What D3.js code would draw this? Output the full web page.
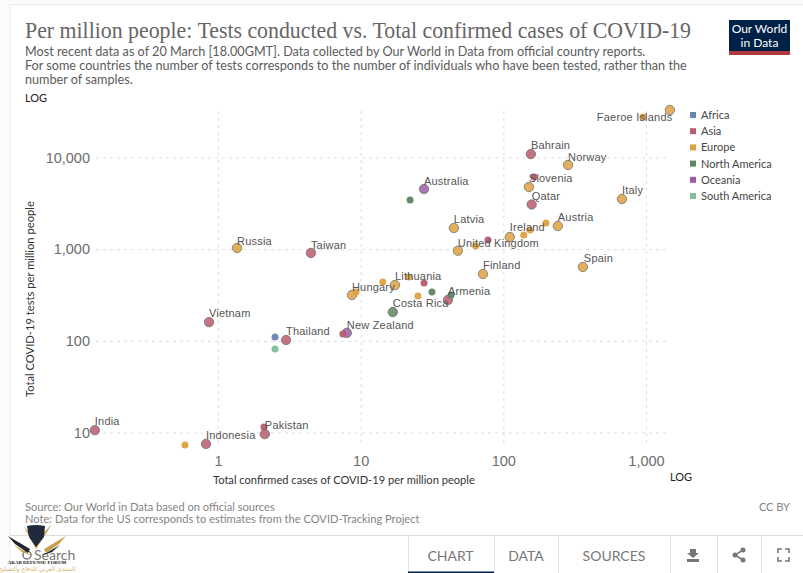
<!DOCTYPE html>
<html>
<head>
<meta charset="utf-8">
<script src="https://cdn.jsdelivr.net/npm/d3@7"></script>
<style>
  html, body { margin: 0; padding: 0; background: #fbfbfb; }
  svg { display: block; font-family: Lato, sans-serif; }
  .grid line { stroke: #ddd; stroke-dasharray: 3 4; }
  .grid .domain { display: none; }
  .grid text { fill: #6e6e6e; font-size: 14.5px; }
  .lbl { font-family: "Liberation Sans", Arial, sans-serif; font-size: 11px; fill: #555; letter-spacing: .2px; }
</style>
</head>
<body>
<svg id="chart" width="803" height="573"></svg>
<script>
const continents = ["Africa", "Asia", "Europe", "North America", "Oceania", "South America"];
const continentColors = ["#6D82B5", "#B85C6E", "#DFA13F", "#5F8562", "#9A5EA3", "#7FBF95"];

// one entry per country, same order in all the lists. "" = no label on the chart
const cases = [1470, 951, 156, 284, 164, 151, 158, 678, 27.8, 22.2, 45, 241, 199, 111, 139, 154, 78, 64, 48, 72, 361, 1.36, 4.48, 17.4, 14.3, 21.8, 27.8, 31.6, 25.2, 8.69, 9.27, 40.9, 43, 16.8, 8.0, 7.5, 0.865, 3.0, 2.51, 2.51, 0.137, 2.1, 2.13, 0.824, 0.587];
const tests = [33000, 27700, 10900, 8280, 6120, 4765, 3070, 3525, 4530, 3440, 1700, 1790, 1930, 1357, 1427, 1618, 1259, 1083, 962, 536, 639, 1030, 908, 406, 438, 497, 427, 341, 308, 316, 341, 279, 316, 206, 122, 119, 160, 102, 110, 81.5, 10.6, 11.5, 9.6, 7.5, 7.3];
const group = ["Europe", "Europe", "Asia", "Europe", "Asia", "Europe", "Asia", "Europe", "Oceania", "North America", "Europe", "Europe", "Europe", "Europe", "Europe", "Europe", "Asia", "Europe", "Europe", "Europe", "Europe", "Europe", "Asia", "Europe", "Europe", "Europe", "Asia", "North America", "Europe", "Europe", "Europe", "Asia", "North America", "North America", "Oceania", "Asia", "Asia", "Asia", "Africa", "South America", "Asia", "Asia", "Asia", "Asia", "Europe"];
const names = ["Faeroe Islands", "", "Bahrain", "Norway", "", "Slovenia", "Qatar", "Italy", "Australia", "", "Latvia", "Austria", "", "Ireland", "", "", "", "", "United Kingdom", "Finland", "Spain", "Russia", "Taiwan", "Lithuania", "", "", "", "", "", "Hungary", "", "Armenia", "", "Costa Rica", "New Zealand", "", "Vietnam", "Thailand", "", "", "India", "", "Pakistan", "Indonesia", ""];

const xTicks = [1, 10, 100, 1000];
const yTicks = [10, 100, 1000, 10000];

const title = "Per million people: Tests conducted vs. Total confirmed cases of COVID-19";
const subtitle = [
  "Most recent data as of 20 March [18.00GMT]. Data collected by Our World in Data from official country reports.",
  "For some countries the number of tests corresponds to the number of individuals who have been tested, rather than the",
  "number of samples."
];
const footer = [
  "Source: Our World in Data based on official sources",
  "Note: Data for the US corresponds to estimates from the COVID-Tracking Project"
];
const tabs = ["CHART", "DATA", "SOURCES"];

// label placement relative to the dot
const labelOffset = {
  "Faeroe Islands": [-73, 11], "Bahrain": [0, -5], "Norway": [0, -4], "Slovenia": [0, -5], "Qatar": [0, -5],
  "Italy": [0, -5], "Australia": [0, -4], "Latvia": [0, -5], "Austria": [0, -5], "Ireland": [0, -6],
  "United Kingdom": [0, -4], "Finland": [0, -5], "Spain": [1, -5], "Russia": [0, -3], "Taiwan": [0, -4],
  "Lithuania": [0, -5], "Hungary": [0, -4], "Armenia": [0, -5], "Costa Rica": [0, -5], "New Zealand": [0, -4],
  "Vietnam": [0, -5], "Thailand": [0, -5], "India": [0, -5], "Pakistan": [0, -5], "Indonesia": [0, -5]
};

const svg = d3.select("#chart");

const x = d3.scaleLog().domain([1, 1000]).range([218, 646]);
const y = d3.scaleLog().domain([10, 10000]).range([432.5, 157.5]);
const color = d3.scaleOrdinal().domain(continents).range(continentColors);

// card
svg.append("rect").attr("x", 10).attr("y", 4.5).attr("width", 800).attr("height", 580)
  .attr("fill", "#fff").attr("stroke", "#eee");

svg.append("text").attr("x", 25).attr("y", 38).text(title)
  .attr("font-family", "Liberation Serif, serif").attr("font-size", 23).attr("fill", "#666")
  .attr("textLength", 666).attr("lengthAdjust", "spacingAndGlyphs");

svg.selectAll(".sub").data(subtitle).join("text").attr("class", "sub")
  .attr("x", 25).attr("y", (d, i) => 56 + i * 14.2).text(d => d)
  .attr("font-size", 12.65).attr("fill", "#5b5b5b");

svg.append("text").attr("x", 25).attr("y", 102).text("LOG").attr("font-size", 11).attr("fill", "#222");
svg.append("text").attr("x", 670).attr("y", 481).text("LOG").attr("font-size", 11).attr("fill", "#222");

// logo
svg.append("rect").attr("x", 729).attr("y", 20).attr("width", 61).attr("height", 35).attr("fill", "#002147");
svg.append("rect").attr("x", 729).attr("y", 51).attr("width", 61).attr("height", 4).attr("fill", "#b13a3f");
svg.selectAll(".logo").data(["Our World", "in Data"]).join("text").attr("class", "logo")
  .attr("x", 759.5).attr("y", (d, i) => 33 + i * 14).attr("text-anchor", "middle")
  .attr("font-size", 12).attr("fill", "#fff").text(d => d);

// axes + grid
svg.append("g").attr("class", "grid").attr("transform", "translate(0,443)")
  .call(d3.axisBottom(x).tickValues(xTicks).tickFormat(d3.format(",")).tickSize(-335).tickPadding(13));
svg.append("g").attr("class", "grid").attr("transform", "translate(96,0)")
  .call(d3.axisLeft(y).tickValues(yTicks).tickFormat(d3.format(",")).tickSize(-574).tickPadding(6));

svg.append("text").attr("x", 213).attr("y", 484).text("Total confirmed cases of COVID-19 per million people")
  .attr("font-size", 11.1).attr("fill", "#333");
svg.append("text").attr("transform", "translate(34,397) rotate(-90)").text("Total COVID-19 tests per million people")
  .attr("font-size", 11.2).attr("fill", "#333");

// dots, labelled ones are drawn bigger
const rows = cases.map((c, i) => ({ c, t: tests[i], g: group[i], n: names[i] }));
svg.append("g").selectAll("circle").data(rows).join("circle")
  .attr("cx", d => x(d.c)).attr("cy", d => y(d.t))
  .attr("r", d => d.n ? 4.7 : 3.5)
  .attr("fill", d => color(d.g)).attr("fill-opacity", d => d.n ? .85 : .95)
  .attr("stroke", d => d.n ? "#666" : "none").attr("stroke-width", .7);

svg.append("g").selectAll("text").data(rows.filter(d => d.n)).join("text").attr("class", "lbl")
  .attr("x", d => x(d.c) + labelOffset[d.n][0]).attr("y", d => y(d.t) + labelOffset[d.n][1])
  .text(d => d.n);

// legend
const legend = svg.append("g").selectAll("g").data(continents).join("g")
  .attr("transform", (d, i) => `translate(690,${115 + i * 16.2})`);
legend.append("rect").attr("y", -3).attr("width", 6).attr("height", 6).attr("fill", d => color(d));
legend.append("text").attr("x", 11).attr("y", 4).text(d => d).attr("font-size", 11).attr("fill", "#444");

// footer
svg.selectAll(".foot").data(footer).join("text").attr("class", "foot")
  .attr("x", 25).attr("y", (d, i) => 511 + i * 12).text(d => d)
  .attr("font-size", 11.1).attr("fill", "#858585");
svg.append("text").attr("x", 790).attr("y", 511).attr("text-anchor", "end").text("CC BY")
  .attr("font-size", 11).attr("fill", "#858585");

// tab bar
svg.append("line").attr("x1", 10).attr("x2", 803).attr("y1", 535.5).attr("y2", 535.5).attr("stroke", "#ddd");
svg.selectAll(".sep").data([408, 494, 558, 670, 717, 761]).join("line").attr("class", "sep")
  .attr("x1", d => d + .5).attr("x2", d => d + .5).attr("y1", 535).attr("y2", 573).attr("stroke", "#e2e2e2");
svg.selectAll(".tab").data(tabs).join("text").attr("class", "tab")
  .attr("x", (d, i) => [450.5, 526, 614][i]).attr("y", 561).attr("text-anchor", "middle")
  .attr("font-size", 14).attr("fill", "#777").text(d => d);
svg.append("rect").attr("x", 408).attr("y", 571.5).attr("width", 86).attr("height", 1.5).attr("fill", "#002147");

// toolbar icons
const icons = svg.append("g").attr("fill", "#777");
icons.append("path").attr("d", "M690 549h6v4h3l-6 5-6-5h3z M687 559h12v3h-12z");
icons.append("g").attr("stroke", "#777").attr("stroke-width", 1.5).append("path")
  .attr("d", "M743 550L735 555L743 560").attr("fill", "none");
icons.selectAll("circle").data([[743, 550], [735, 555], [743, 560]]).join("circle")
  .attr("cx", d => d[0]).attr("cy", d => d[1]).attr("r", 2.5);
icons.append("path").attr("fill", "none").attr("stroke", "#777").attr("stroke-width", 1.6)
  .attr("d", "M778 553v-4h4 M785 549h4v4 M789 557v4h-4 M782 561h-4v-4");

// search box, partly under the forum watermark
svg.append("circle").attr("cx", 27).attr("cy", 555).attr("r", 4).attr("fill", "none").attr("stroke", "#777").attr("stroke-width", 1.5);
svg.append("text").attr("x", 34).attr("y", 560).text("Search").attr("font-size", 14).attr("fill", "#777");

// watermark of the forum the picture was posted on
const mark = svg.append("g");
mark.append("path").attr("d", "M24 527L36 549L52 524L37 540z").attr("fill", "#c9a04a");
mark.append("path").attr("d", "M27 526Q36 524 45 526L44 537L36 547L29 537z").attr("fill", "#1f2a3c");
mark.append("path").attr("d", "M8 536L30 549L28 553L15 544z").attr("fill", "#23262c");
mark.append("path").attr("d", "M66 536L44 549L46 553L59 544z").attr("fill", "#c9a04a");
mark.append("path").attr("d", "M14 545L33 556L22 552z").attr("fill", "#c9a04a");
mark.append("path").attr("d", "M60 545L41 556L52 552z").attr("fill", "#23262c");
mark.append("text").attr("x", 37).attr("y", 564).attr("text-anchor", "middle").text("ARAB DEFENSE FORUM")
  .attr("font-family", "Liberation Serif, serif").attr("font-size", 5).attr("font-weight", 700).attr("fill", "#222");
mark.append("text").attr("x", 37).attr("y", 571).attr("text-anchor", "middle").text("المنتدى العربي للدفاع والتسليح")
  .attr("font-family", "DejaVu Sans, sans-serif").attr("font-size", 6).attr("fill", "#d8b36a");
</script>
</body>
</html>
